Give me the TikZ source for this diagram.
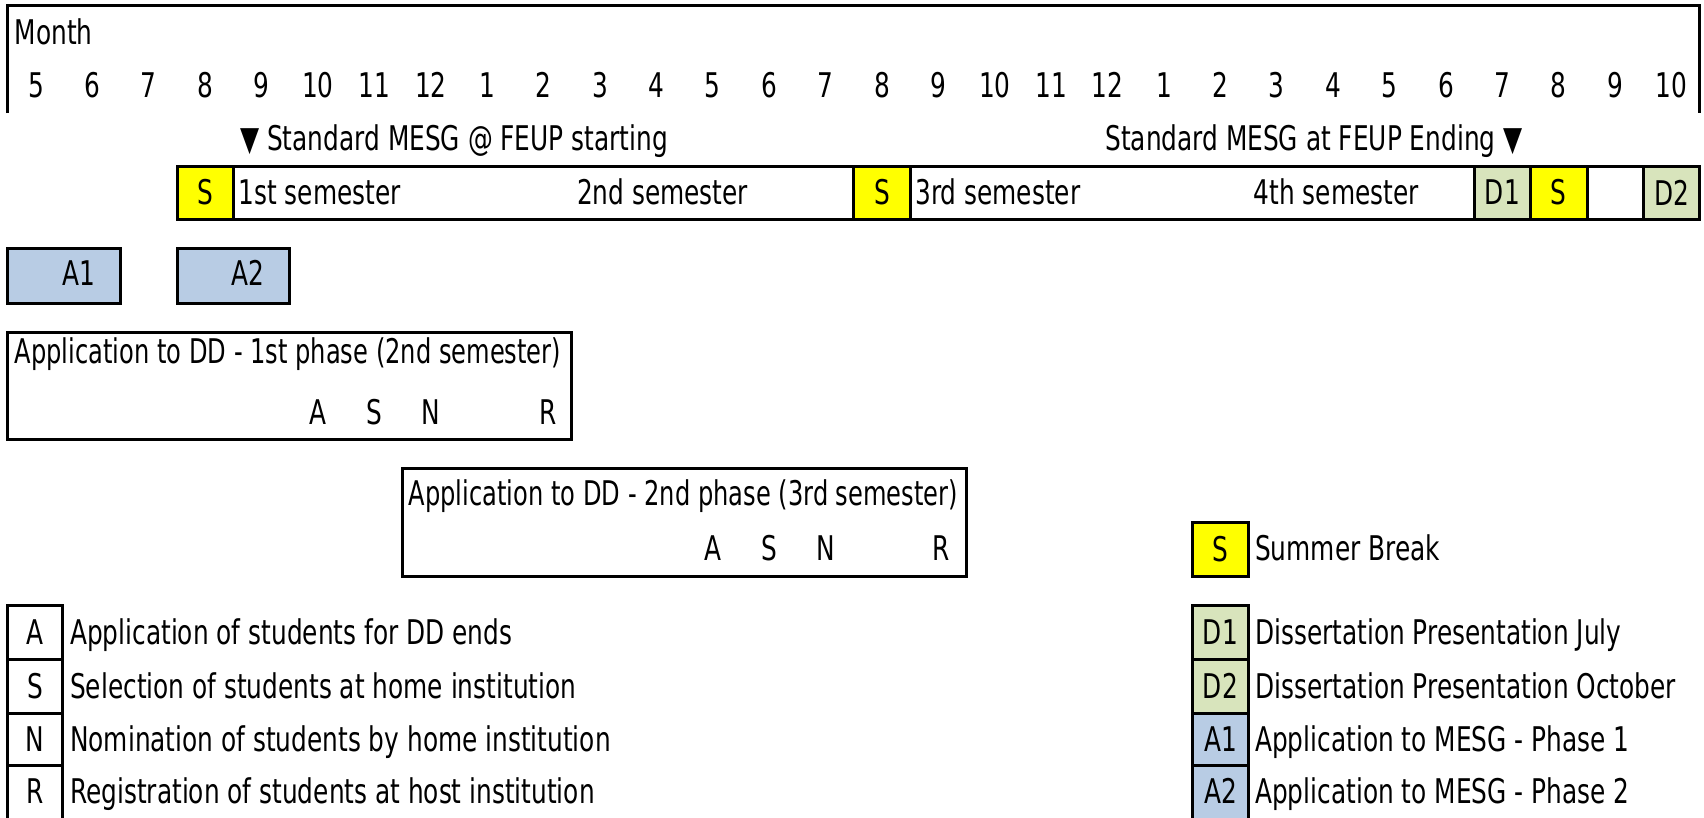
\documentclass[tikz,border=0pt]{standalone}
\usepackage{fontspec}
\setmainfont{DejaVu Sans}[FakeStretch=0.73]
\newfontfamily\titlefont{DejaVu Sans}[FakeStretch=0.71]
\definecolor{sumyel}{HTML}{FFFF00}
\definecolor{disgreen}{HTML}{D8E4BC}
\definecolor{appblue}{HTML}{B8CCE4}
% left edge of month column #1
\newcommand\X[1]{7.8+56.4*(#1)}
\tikzset{
  lw/.style={line width=3pt, line join=miter},
  txt/.style={font=\fontsize{34}{40}\selectfont, inner sep=0pt, anchor=base},
  txtl/.style={txt, anchor=base west},
  txtr/.style={txt, anchor=base east},
  ttl/.style={txtl, font=\titlefont\fontsize{34}{40}\selectfont},
  cell/.style={draw, lw, minimum width=56.4pt, minimum height=53pt, inner sep=0pt,
    font=\fontsize{34}{40}\selectfont},
}
\begin{document}
\begin{tikzpicture}[x=1pt,y=-1pt]
\useasboundingbox (0,0) rectangle (1704,817);

% month header
\draw[lw] ({\X0},113) |- ({\X{30}},5.7) -- ({\X{30}},113);
\node[txtl] (month) at (14.5,44) {Month};
\foreach \m [count=\i from 0] in {5,6,7,8,9,10,11,12,1,2,3,4,5,6,7,8,9,10,11,12,1,2,3,4,5,6,7,8,9,10}
  \node[txt] (m\i) at ({\X{\i}+28.2},97) {\m};

% programme start / end markers
\node[txtl] (start) at (240,150) {▼ Standard MESG @ FEUP starting};
\node[txtr] (finish) at ({\X{27}-8},150) {Standard MESG at FEUP Ending ▼};

% semester bar
\draw[lw] ({\X3},166) rectangle ({\X{30}},219);
\node[cell, fill=sumyel] (bS1) at ({\X{3.5}},192.5) {S};
\node[txtl] (sem1) at ({\X4+5},204) {1st semester};
\node[txtl] (sem2) at ({\X{10}+5},204) {2nd semester};
\node[cell, fill=sumyel] (bS2) at ({\X{15.5}},192.5) {S};
\node[txtl] (sem3) at ({\X{16}+5},204) {3rd semester};
\node[txtl] (sem4) at ({\X{22}+5},204) {4th semester};
\node[cell, fill=disgreen] (bD1) at ({\X{26.5}},192.5) {D1};
\node[cell, fill=sumyel] (bS3) at ({\X{27.5}},192.5) {S};
\node[cell] (bE) at ({\X{28.5}},192.5) {};
\node[cell, fill=disgreen] (bD2) at ({\X{29.5}},192.5) {D2};

% MESG application windows
\draw[lw, fill=appblue] ({\X0},248) rectangle ({\X2},303);
\node[txtr] (a1) at ({\X2-25},285) {A1};
\draw[lw, fill=appblue] ({\X3},248) rectangle ({\X5},303);
\node[txtr] (a2) at ({\X5-25},285) {A2};

% double degree, 1st phase
\draw[lw] ({\X0},332) rectangle ({\X{10}},439);
\node[ttl] (ph1) at (14.5,363) {Application to DD - 1st phase (2nd semester)};
\node[txt] (ph1A) at ({\X5+28.2},424) {A};
\node[txt] (ph1S) at ({\X6+28.2},424) {S};
\node[txt] (ph1N) at ({\X7+28.2},424) {N};
\node[txt] (ph1R) at (548,424) {R};

% double degree, 2nd phase
\draw[lw] ({\X7},468) rectangle ({\X{17}},576);
\node[ttl] (ph2) at ({\X7+6},505) {Application to DD - 2nd phase (3rd semester)};
\node[txt] (ph2A) at ({\X{12}+28.2},560) {A};
\node[txt] (ph2S) at ({\X{13}+28.2},560) {S};
\node[txt] (ph2N) at ({\X{14}+28.2},560) {N};
\node[txt] (ph2R) at (941,560) {R};

% legend, right
\node[cell, fill=sumyel, minimum height=54pt] (kS) at ({\X{21.5}},549) {S};
\node[txtl] (kSt) at (1255,560) {Summer Break};
\node[cell, fill=disgreen, minimum height=54pt] (kD1) at ({\X{21.5}},632) {D1};
\node[txtl] (kD1t) at (1255,644) {Dissertation Presentation July};
\node[cell, fill=disgreen, minimum height=54pt] (kD2) at ({\X{21.5}},686) {D2};
\node[txtl] (kD2t) at (1255,698) {Dissertation Presentation October};
\node[cell, fill=appblue, minimum height=52pt] (kA1) at ({\X{21.5}},739) {A1};
\node[txtl] (kA1t) at (1255,751) {Application to MESG - Phase 1};
\draw[lw, fill=appblue] ({\X{21}},765) rectangle ({\X{22}},830);
\node[txt] (kA2) at ({\X{21.5}},803) {A2};
\node[txtl] (kA2t) at (1255,803) {Application to MESG - Phase 2};

% legend, left
\draw[lw] (7.7,605) rectangle (62,659);
\node[txt] (kA) at (35,644) {A};
\node[txtl] (kAt) at (70,644) {Application of students for DD ends};
\draw[lw] (7.7,659) rectangle (62,713);
\node[txt] (kS2) at (35,698) {S};
\node[txtl] (kS2t) at (70,698) {Selection of students at home institution};
\draw[lw] (7.7,713) rectangle (62,765);
\node[txt] (kN) at (35,751) {N};
\node[txtl] (kNt) at (70,751) {Nomination of students by home institution};
\draw[lw] (7.7,765) rectangle (62,830);
\node[txt] (kR) at (35,803) {R};
\node[txtl] (kRt) at (70,803) {Registration of students at host institution};
\end{tikzpicture}
\end{document}
